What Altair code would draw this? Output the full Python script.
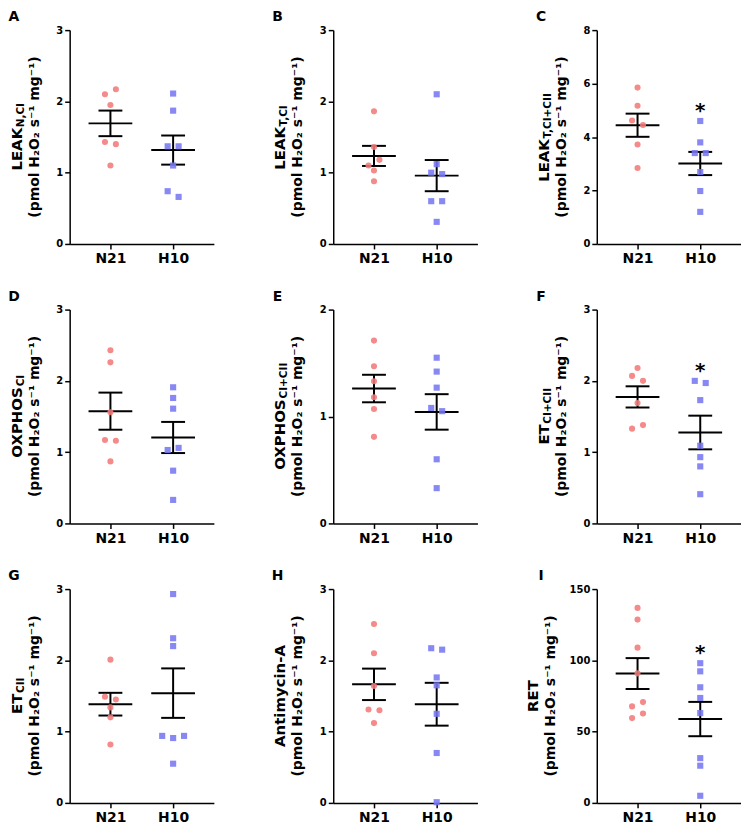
import math
import altair as alt
import pandas as pd

# ------------------------------------------------------------------ data
groups = ["N21", "H10"]
letters = ["A", "B", "C", "D", "E", "F", "G", "H", "I"]
title_main = ["LEAK", "LEAK", "LEAK", "OXPHOS", "OXPHOS", "ET", "ET", "Antimycin-A", "RET"]
title_sub = ["N,CI", "T,CI", "T,CI+CII", "CI", "CI+CII", "CI+CII", "CII", "", ""]
unit_line = "(pmol H\u2082O\u2082 s\u207b\u00b9 mg\u207b\u00b9)"
y_max = [3, 3, 8, 3, 2, 3, 3, 3, 150]
y_step = [1, 1, 2, 1, 1, 1, 1, 1, 50]
significant = [False, False, True, False, False, True, False, False, True]

a_n21 = [2.10, 2.17, 1.95, 1.43, 1.40, 1.10]
a_h10 = [2.11, 1.87, 1.37, 1.37, 1.10, 0.74, 0.66]
b_n21 = [1.86, 1.36, 1.10, 1.18, 1.03, 0.88]
b_h10 = [2.10, 1.12, 1.00, 0.98, 0.60, 0.60, 0.31]
c_n21 = [5.85, 5.17, 4.62, 4.45, 3.72, 2.84]
c_h10 = [4.60, 3.80, 3.40, 3.40, 2.69, 1.98, 1.20]
d_n21 = [2.43, 2.26, 1.56, 1.17, 1.16, 0.87]
d_h10 = [1.91, 1.76, 1.61, 1.03, 1.06, 0.74, 0.33]
e_n21 = [1.71, 1.47, 1.33, 1.18, 1.07, 0.81]
e_h10 = [1.55, 1.42, 1.27, 1.08, 1.05, 0.60, 0.33]
f_n21 = [2.18, 2.07, 2.00, 1.69, 1.33, 1.38]
f_h10 = [2.00, 1.97, 1.73, 1.09, 0.93, 0.80, 0.41]
g_n21 = [2.01, 1.49, 1.45, 1.34, 1.20, 0.82]
g_h10 = [2.93, 2.31, 2.20, 0.94, 0.91, 0.94, 0.55]
h_n21 = [2.51, 2.10, 1.64, 1.31, 1.30, 1.12]
h_h10 = [2.17, 2.15, 1.76, 1.65, 1.25, 0.70, 0.01]
i_n21 = [136.8, 128.6, 108.9, 90.9, 67.7, 70.7, 59.5, 62.7]
i_h10 = [98.0, 92.3, 81.1, 73.6, 63.0, 31.4, 26.1, 5.0]

panel_n21 = [a_n21, b_n21, c_n21, d_n21, e_n21, f_n21, g_n21, h_n21, i_n21]
panel_h10 = [a_h10, b_h10, c_h10, d_h10, e_h10, f_h10, g_h10, h_h10, i_h10]

# ------------------------------------------------------------------ style
W, H = 145, 215
X_DOM = [-0.65, 1.65]
DOT_GAP_PX = 11.0
ROW_PX = 7.0
COLORS = ["#F47A7A", "#7878F4"]
FONT = "DejaVu Sans"
T1_SIZE, T1_SUB = 15, 10.5

# DejaVu Sans Bold advance widths (em)
EM = {'L': .637, 'E': .683, 'A': .774, 'K': .775, 'O': .850, 'X': .763, 'P': .733,
      'H': .837, 'S': .720, 'T': .682, 'R': .770, 'N': .837, 'C': .734, 'I': .372,
      ',': .380, '+': .838, 'n': .712, 't': .478, 'i': .343, 'm': 1.042, 'y': .652,
      'c': .593, '-': .415}


def text_w(s, size):
    return sum(EM.get(ch, 0.7) for ch in s) * size


def jitter(vals, ymax):
    thr = ROW_PX * ymax / H
    unit = DOT_GAP_PX * (X_DOM[1] - X_DOM[0]) / W
    order = sorted(range(len(vals)), key=lambda i: -vals[i])
    rows = []
    for i in order:
        if rows and vals[rows[-1][0]] - vals[i] <= thr:
            rows[-1].append(i)
        else:
            rows.append([i])
    off = [0.0] * len(vals)
    for r in rows:
        r.sort()
        n = len(r)
        for k, i in enumerate(r):
            off[i] = (k - (n - 1) / 2) * unit
    return off


def panel(k):
    ymax, step = y_max[k], y_step[k]
    sets = [panel_n21[k], panel_h10[k]]
    rows, summ = [], []
    for gi, vals in enumerate(sets):
        offs = jitter(vals, ymax)
        for v, o in zip(vals, offs):
            rows.append({"group": groups[gi], "jx": gi + o, "value": v})
        s = pd.Series(vals)
        m = s.mean()
        se = s.std(ddof=1) / math.sqrt(len(s))
        summ.append({"gx": gi, "mean": m, "lo": m - se, "hi": m + se})
    df = pd.DataFrame(rows)
    sdf = pd.DataFrame(summ)

    xs = alt.Scale(domain=X_DOM, nice=False, zero=False)
    ys = alt.Scale(domain=[0, ymax], nice=False, zero=True)
    xa = alt.Axis(values=[0, 1], labelExpr="datum.value == 0 ? 'N21' : 'H10'",
                  title=None, grid=False, tickSize=5, tickWidth=1.5, tickColor="black",
                  domainColor="black", domainWidth=1.5, labelFontSize=14,
                  labelFontWeight="bold", labelColor="black", labelPadding=3,
                  labelFlush=False, labelOverlap=False, labelFont=FONT, tickCount=10)
    ya = alt.Axis(values=list(range(0, ymax + 1, step)), tickCount=20,
                  labelExpr="format(datum.value, 'd')", title=None, grid=False,
                  tickSize=5, tickWidth=1.5, tickColor="black", domainColor="black",
                  domainWidth=1.5, labelFontSize=10, labelFontWeight="bold",
                  labelColor="black", labelPadding=2, labelOverlap=False,
                  labelFlush=False, labelFont=FONT)

    def X(f):
        return alt.X(f, type="quantitative", scale=xs, axis=xa)

    def Y(f):
        return alt.Y(f, type="quantitative", scale=ys, axis=ya)

    base = alt.Chart(sdf)
    mean_rule = base.mark_rule(xOffset=-22, x2Offset=22, strokeWidth=2, color="black").encode(
        x=X("gx"), x2="gx:Q", y=Y("mean"))
    cap_lo = base.mark_rule(xOffset=-12, x2Offset=12, strokeWidth=2, color="black").encode(
        x=X("gx"), x2="gx:Q", y=Y("lo"))
    cap_hi = base.mark_rule(xOffset=-12, x2Offset=12, strokeWidth=2, color="black").encode(
        x=X("gx"), x2="gx:Q", y=Y("hi"))
    vline = base.mark_rule(strokeWidth=2, color="black").encode(
        x=X("gx"), y=Y("lo"), y2="hi:Q")

    pts = alt.Chart(df).mark_point(filled=True, size=38, opacity=0.88, strokeWidth=0).encode(
        x=X("jx"), y=Y("value"),
        color=alt.Color("group:N", scale=alt.Scale(domain=groups, range=COLORS), legend=None),
        shape=alt.Shape("group:N", scale=alt.Scale(domain=groups, range=["circle", "square"]),
                        legend=None))

    one = pd.DataFrame({"k": [0]})
    shift = (len(str(ymax)) - 1) * 5.5
    t1x = -53 - shift
    t2x = -35 - shift
    main, sub = title_main[k], title_sub[k]
    wm, ws = text_w(main, T1_SIZE), text_w(sub, T1_SUB)
    start = -(wm + ws) / 2
    layers = [mean_rule, cap_lo, cap_hi, vline, pts]
    layers.append(alt.Chart(one).mark_text(
        text=main, angle=270, align="left", baseline="middle", dx=start,
        fontSize=T1_SIZE, fontWeight="bold", font=FONT, color="black").encode(
        x=alt.value(t1x), y=alt.value(H / 2)))
    if sub:
        layers.append(alt.Chart(one).mark_text(
            text=sub, angle=270, align="left", baseline="middle", dx=start + wm + 0.5, dy=4,
            fontSize=T1_SUB, fontWeight="bold", font=FONT, color="black").encode(
            x=alt.value(t1x), y=alt.value(H / 2)))
    layers.append(alt.Chart(one).mark_text(
        text=unit_line, angle=270, align="center", baseline="middle",
        fontSize=14, fontWeight="bold", font=FONT, color="black").encode(
        x=alt.value(t2x), y=alt.value(H / 2)))
    layers.append(alt.Chart(one).mark_text(
        text=letters[k], align="center", baseline="middle",
        fontSize=14, fontWeight="bold", font=FONT, color="black").encode(
        x=alt.value(-56), y=alt.value(-13)))
    if significant[k]:
        sd = pd.DataFrame({"gx": [1], "star": [max(panel_h10[k])]})
        layers.append(alt.Chart(sd).mark_text(
            text="*", align="center", baseline="alphabetic", dy=-4,
            fontSize=20, fontWeight="bold", font=FONT, color="black").encode(
            x=X("gx"), y=Y("star")))
    return alt.layer(*layers).properties(width=W, height=H)


charts = [panel(k) for k in range(9)]
chart = alt.concat(*charts, columns=3, spacing={"row": 66, "column": 120},
                   bounds="flush").properties(
    padding={"left": 0, "top": 0, "right": 0, "bottom": 1}
).configure_view(stroke=None)

chart.save("out.html", embed_options={"renderer": "svg", "actions": False})
